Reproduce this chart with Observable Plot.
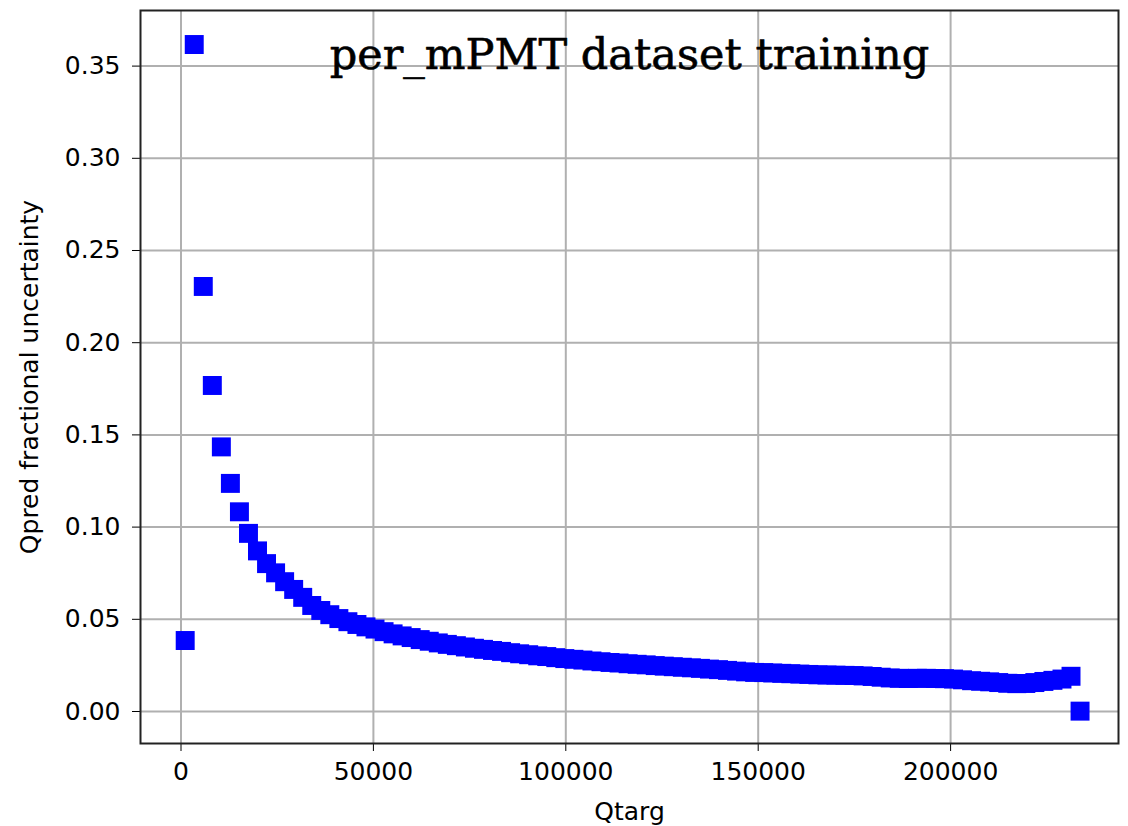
<!DOCTYPE html>
<html><head><meta charset="utf-8">
<script src="https://cdn.jsdelivr.net/npm/d3@7"></script>
<script src="https://cdn.jsdelivr.net/npm/@observablehq/plot@0.6"></script>
<style>body{margin:0;background:#fff}</style>
</head><body><div id="chart"></div>
<script>
const qtarg = [1091,3440,5789,8138,10487,12836,15185,17534,19883,22232,
24581,26930,29279,31628,33977,36326,38675,41024,43373,45722,
48071,50420,52769,55118,57467,59816,62165,64514,66863,69212,
71561,73910,76259,78608,80957,83306,85655,88004,90353,92702,
95051,97400,99749,102098,104447,106796,109145,111494,113843,116192,
118541,120890,123239,125588,127937,130286,132635,134984,137333,139682,
142031,144380,146729,149078,151427,153776,156125,158474,160823,163172,
165521,167870,170219,172568,174917,177266,179615,181964,184313,186662,
189011,191360,193709,196058,198407,200756,203105,205454,207803,210152,
212501,214850,217199,219548,221897,224246,226595,228944,231293,233642];
const uncertainty = [0.0385,0.3617,0.2305,0.1768,0.1435,0.1237,0.1083,0.0966,0.0871,0.0802,
0.0752,0.0704,0.0662,0.0619,0.0575,0.0548,0.0525,0.0504,0.0487,0.0472,
0.0459,0.0447,0.0433,0.0421,0.0410,0.0401,0.0390,0.0381,0.0372,0.0364,
0.0357,0.0350,0.0343,0.0337,0.0331,0.0326,0.0319,0.0313,0.0308,0.0302,
0.0298,0.0292,0.0287,0.0283,0.0279,0.0274,0.0270,0.0266,0.0263,0.0259,
0.0256,0.0253,0.0249,0.0246,0.0243,0.0240,0.0237,0.0234,0.0230,0.0227,
0.0223,0.0219,0.0215,0.0212,0.0211,0.0209,0.0207,0.0205,0.0203,0.0201,
0.0199,0.0198,0.0197,0.0196,0.0195,0.0193,0.0190,0.0186,0.0182,0.0180,
0.0179,0.0180,0.0180,0.0179,0.0178,0.0176,0.0172,0.0167,0.0164,0.0161,
0.0157,0.0153,0.0151,0.0152,0.0157,0.0163,0.0169,0.0176,0.0191,0.0002];
const xTicks = [0, 50000, 100000, 150000, 200000];
const yTicks = [0, 0.05, 0.10, 0.15, 0.20, 0.25, 0.30, 0.35];
const title = "per_mPMT dataset training";
const xLabel = "Qtarg";
const yLabel = "Qpred fractional uncertainty";

const data = qtarg.map((q, i) => ({q, u: uncertainty[i]}));

const chart = Plot.plot({
  width: 1128, height: 826,
  marginLeft: 140, marginRight: 10, marginTop: 10, marginBottom: 83,
  style: {fontFamily: "DejaVu Sans", fontSize: "25px", background: "white", color: "black", overflow: "visible"},
  x: {domain: [-10525, 243633], ticks: xTicks, tickFormat: d3.format("d"), tickSize: 8, tickPadding: 11,
      label: xLabel, labelAnchor: "center", labelOffset: 76, labelArrow: false},
  y: {domain: [-0.01735, 0.38015], ticks: yTicks, tickFormat: d3.format(".2f"), tickSize: 8, tickPadding: 12,
      label: yLabel, labelAnchor: "center", labelOffset: 120, labelArrow: false},
  marks: [
    Plot.ruleX(xTicks, {stroke: "#b0b0b0", strokeWidth: 2}),
    Plot.ruleY(yTicks, {stroke: "#b0b0b0", strokeWidth: 2}),
    Plot.dot(data, {x: "q", y: "u", symbol: "square", r: 10.7, fill: "#0000ff", stroke: "none"}),
    Plot.frame({stroke: "#222", strokeWidth: 2}),
    Plot.text([title], {text: d => d, frameAnchor: "top", dy: 28, fontFamily: "DejaVu Serif", fontSize: 43, fill: "black", stroke: "black", strokeWidth: 0.6})
  ]
});
document.getElementById("chart").appendChild(chart);
</script>
</body></html>
